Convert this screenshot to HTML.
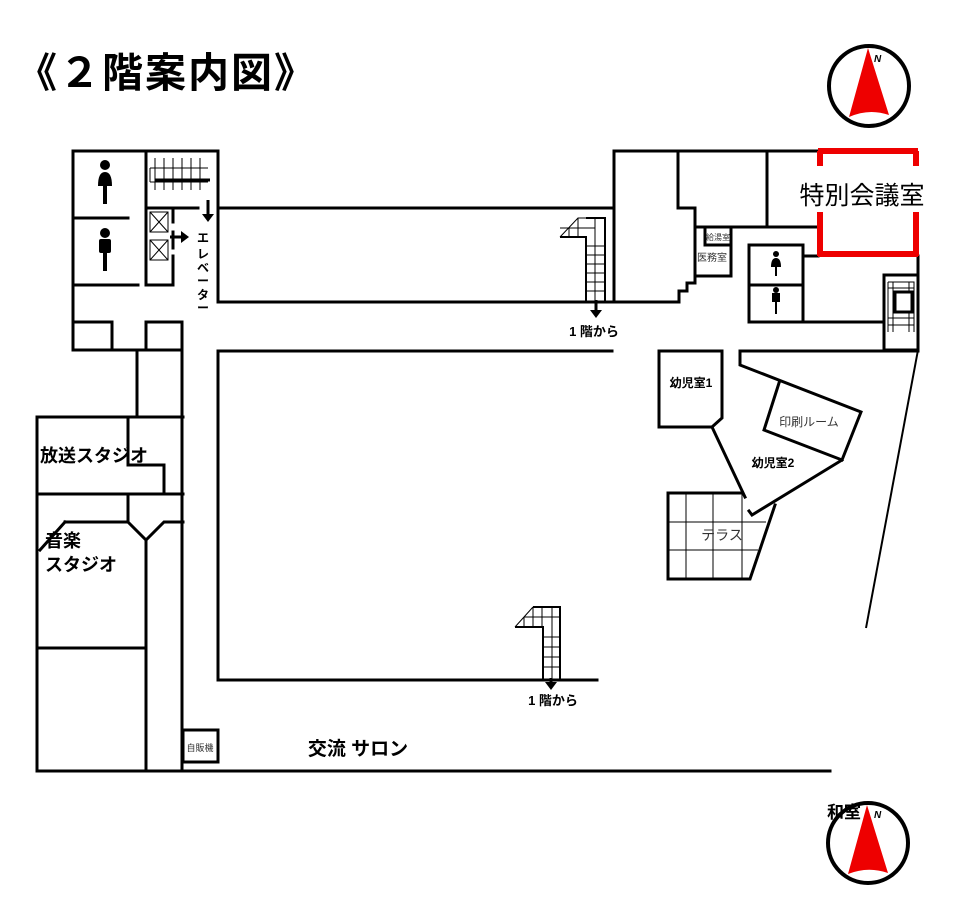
<!DOCTYPE html>
<html><head><meta charset="utf-8"><style>
html,body{margin:0;padding:0;background:#fff;}
svg{display:block;}
text{font-family:"Liberation Sans","Noto Sans CJK JP",sans-serif;}
</style></head><body>
<svg width="969" height="910" viewBox="0 0 969 910" xmlns="http://www.w3.org/2000/svg">
<rect width="969" height="910" fill="#fff"/>
<text x="16" y="87" font-size="41" font-weight="bold" letter-spacing="2" font-family="'Noto Sans CJK JP',sans-serif">《２階案内図》</text>

<!-- compass top -->
<circle cx="869" cy="86" r="40" fill="#fff" stroke="#000" stroke-width="4"/>
<path d="M868,48 L889,115 Q869,108 849,117 Z" fill="#e00"/>
<text x="874" y="62" font-size="10" font-weight="bold" font-style="italic">N</text>
<!-- compass bottom -->
<circle cx="868" cy="843" r="40" fill="#fff" stroke="#000" stroke-width="4"/>
<path d="M867,805 L888,873 Q868,866 848,874 Z" fill="#e00"/>
<text x="874" y="818" font-size="10" font-weight="bold" font-style="italic">N</text>
<text x="827" y="818" font-size="17" font-weight="bold" font-family="'Noto Sans CJK JP',sans-serif">和室</text>

<g fill="none" stroke="#000" stroke-width="3" stroke-linecap="square">
<path d="M73,151 H218 V208 M146,151 V285 M73,151 V350 M73,218 H128 M73,285 H138"/>
<path d="M146,208 H198 M173,208 V222 M173,232 V248 M173,256 V285 M146,285 H173"/>
<path d="M218,208 H613 M218,302 H613 M218,208 V302"/>
<path d="M73,322 H112 V350 M146,350 V322 H182 V350 M73,350 H182"/>
<path d="M137,350 V417 M182,322 V771 M37,417 H183 M37,417 V771 M37,494 H183 M128,417 V465 H164 V494 M128,494 V522 H65 M128,522 L146,540 L164,522 H183 M65,522 L40,550 M146,540 V771 M37,648 H146 M37,771 H830"/>
<rect x="183" y="730" width="35" height="32"/>
<path d="M218,351 V680 H597 M218,351 H612"/>
<path d="M614,151 H818 M614,151 V302 H679 V291 H687 V283 H695 V208 H678 V151 M767,151 V227 M695,227 H818 M695,276 H731 V227 M705,227 V245 H731"/>
<rect x="749" y="245" width="54" height="77"/>
<path d="M749,285 H803 M803,256 H818 M803,322 H884 M918,256 V350"/>
<rect x="884" y="275" width="34" height="75"/>
<path d="M659,351 V427 H712 L722,418 V351 M659,351 H722 M740,351 H918 M740,351 V365 L861,412 L842,460 L764,430 L779,383 M842,460 L752,515 L749,511 M712,427 L745,497"/>
<path d="M668,493 H742 M668,493 V579 H750 L775,505"/>
</g>
<!-- right stair grid -->
<g stroke="#000" stroke-width="1" fill="none">
<path d="M888,282 H914 V332 M888,282 V332 M893,282 V332 M909,282 V332 M888,288 H914 M888,318 H914 M888,325 H914"/>
</g>
<rect x="895" y="292" width="17" height="20" fill="#fff" stroke="#000" stroke-width="3"/>
<path d="M918,350 L866,628" stroke="#000" stroke-width="2"/>
<path d="M686,493 V579 M713,493 V579 M742,493 V579 M668,522 H766 M668,550 H758" stroke="#000" stroke-width="1"/>
<text x="722" y="540" font-size="14" text-anchor="middle" fill="#333">テラス</text>

<g stroke="#e00" stroke-width="6" fill="none">
<path d="M818,151 H918 M818,254 H918 M820,151 V166 M820,212 V256 M916,151 V166 M916,212 V256"/>
</g>
<text x="862" y="204" font-size="25" text-anchor="middle" font-family="'Noto Sans CJK JP',sans-serif">特別会議室</text>

<g stroke="#000" stroke-width="1">
<path d="M150,168 H208 M150,182 H208 M150,168 V182 M155,158 V190 M164,158 V190 M173,158 V190 M182,158 V190 M191,158 V190 M200,158 V190"/>
</g>
<path d="M155,180 H210" stroke="#000" stroke-width="3"/>
<g stroke="#000" stroke-width="1" fill="none">
<rect x="150" y="212" width="18" height="20"/><path d="M150,212 L168,232 M168,212 L150,232"/>
<rect x="150" y="240" width="18" height="20"/><path d="M150,240 L168,260 M168,240 L150,260"/>
</g>
<path d="M208,200 V215" stroke="#000" stroke-width="3"/><path d="M202,214 H214 L208,222 Z"/>
<path d="M170,237 H182" stroke="#000" stroke-width="3"/><path d="M181,231 V243 L189,237 Z"/>
<text x="203" y="242" font-size="12" font-weight="bold" text-anchor="middle">エ</text>
<text x="203" y="258" font-size="12" font-weight="bold" text-anchor="middle">レ</text>
<text x="203" y="272" font-size="12" font-weight="bold" text-anchor="middle">ベ</text>
<text x="203" y="285" font-size="12" font-weight="bold" text-anchor="middle">ー</text>
<text x="203" y="299" font-size="12" font-weight="bold" text-anchor="middle">タ</text>
<text x="203" y="312" font-size="12" font-weight="bold" text-anchor="middle">ー</text>
<g fill="#000">
<circle cx="105" cy="165" r="5"/><path d="M98,186 Q98,172 105,172 Q112,172 112,186 Z"/><rect x="103" y="184" width="4" height="20"/>
<circle cx="105" cy="233" r="5"/><rect x="99" y="239" width="12" height="14" rx="2"/><rect x="103" y="250" width="4" height="21"/>
<circle cx="776" cy="254" r="3"/><path d="M771,267 Q771,258 776,258 Q781,258 781,267 Z"/><rect x="775" y="266" width="2" height="10"/>
<circle cx="776" cy="290" r="3"/><rect x="772" y="293" width="8" height="9"/><rect x="775" y="300" width="2" height="14"/>
</g>
<g stroke="#000" stroke-width="1" fill="none">
<path d="M586,218 H605 V302 M586,237 V302 M595,218 V302 M578,218 V237 M560,237 H586 L586,237 M560,237 L578,218 H586 M569,237 V228 M560,228 H595"/>
<path d="M586,246 H605 M586,255 H605 M586,264 H605 M586,273 H605 M586,282 H605 M586,291 H605"/>
</g>
<path d="M586,218 H605 V302 M560,237 H586 V302" stroke="#000" stroke-width="2" fill="none"/>
<path d="M596,300 V312" stroke="#000" stroke-width="3"/><path d="M590,310 H602 L596,318 Z"/>
<text x="594" y="336" font-size="13" font-weight="bold" text-anchor="middle">1 階から</text>
<g stroke="#000" stroke-width="1" fill="none">
<path d="M552,607 V680 M533,607 V627 M542,607 V627 M524,617 V627 M515,627 L533,607 M524,617 H560 M543,637 H560 M543,647 H560 M543,657 H560 M543,667 H560"/>
</g>
<path d="M533,607 H560 V680 M515,627 H543 V680" stroke="#000" stroke-width="2" fill="none"/>
<path d="M551,678 V684" stroke="#000" stroke-width="3"/><path d="M545,682 H557 L551,690 Z"/>
<text x="553" y="705" font-size="13" font-weight="bold" text-anchor="middle">1 階から</text>

<text x="40" y="462" font-size="18" font-weight="bold" font-family="'Noto Sans CJK JP',sans-serif">放送スタジオ</text>
<text x="45" y="547" font-size="18" font-weight="bold" font-family="'Noto Sans CJK JP',sans-serif">音楽</text>
<text x="45" y="571" font-size="18" font-weight="bold" font-family="'Noto Sans CJK JP',sans-serif">スタジオ</text>
<text x="200" y="751" font-size="9" text-anchor="middle" fill="#333">自販機</text>
<text x="358" y="755" font-size="19" font-weight="bold" text-anchor="middle" font-family="'Noto Sans CJK JP',sans-serif">交流 サロン</text>
<text x="691" y="387" font-size="12" font-weight="bold" text-anchor="middle">幼児室1</text>
<text x="773" y="467" font-size="12" font-weight="bold" text-anchor="middle">幼児室2</text>
<text x="809" y="426" font-size="12" text-anchor="middle" fill="#333">印刷ルーム</text>
<text x="718" y="240" font-size="8" text-anchor="middle" fill="#333">給湯室</text>
<text x="712" y="261" font-size="10" text-anchor="middle" fill="#333">医務室</text>
</svg>
</body></html>
